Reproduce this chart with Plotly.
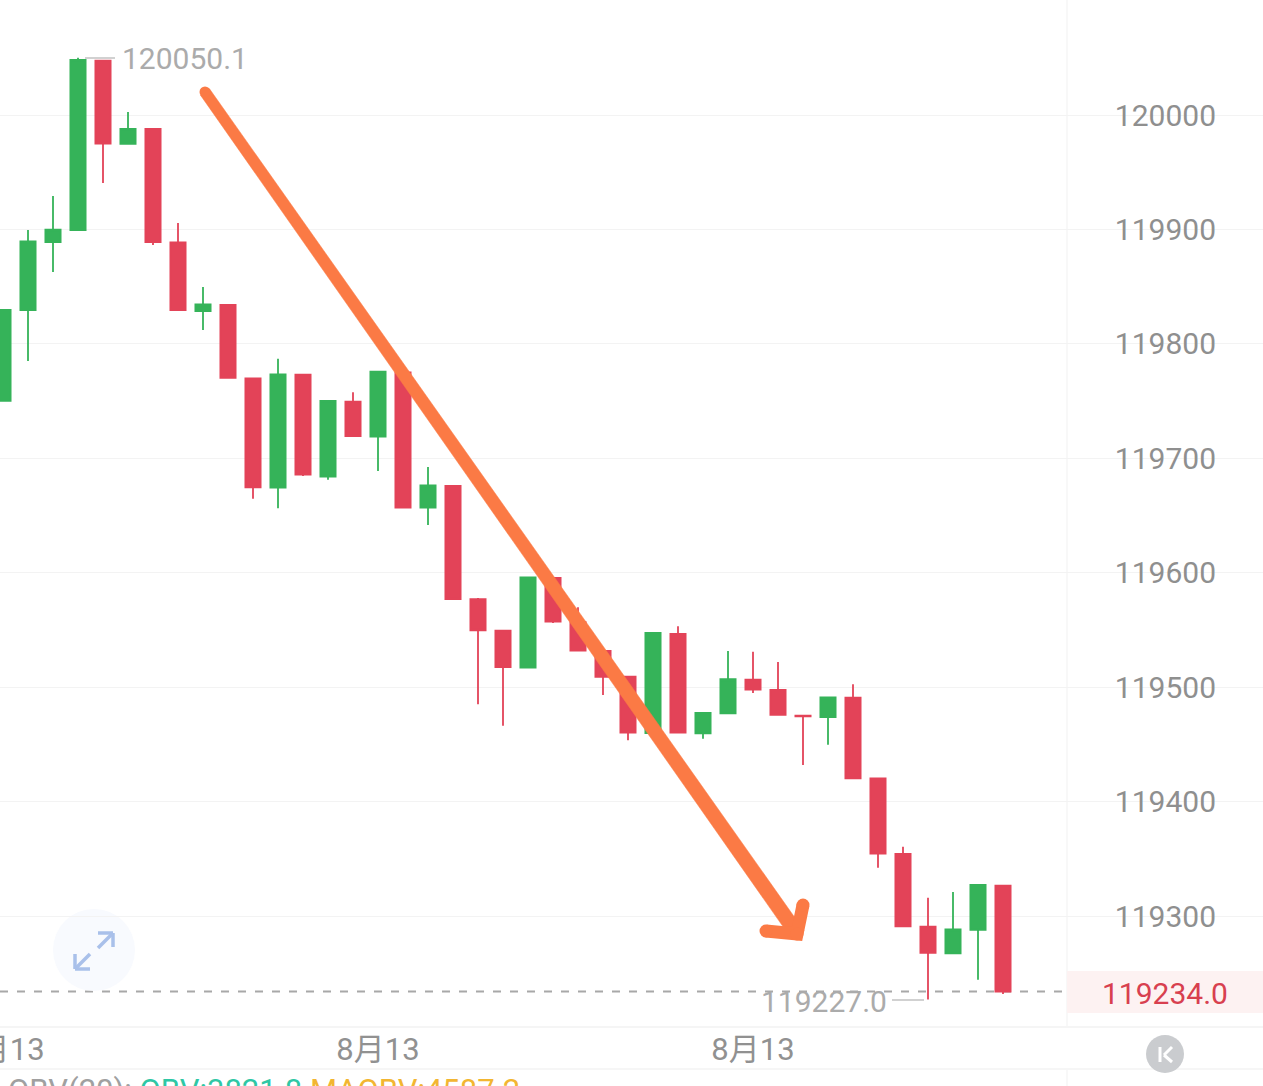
import plotly.graph_objects as go

# --- data ---
opens = [119750.1, 119829.6, 119889.0, 119899.5, 120047.6, 119974.7, 119987.8, 119888.6, 119828.7, 119834.0,
         119769.9, 119674.3, 119773.0, 119683.9, 119749.5, 119718.9, 119775.1, 119656.8, 119675.8, 119576.8,
         119549.3, 119517.0, 119595.4, 119556.9, 119531.6, 119509.1, 119459.9, 119546.5, 119459.7, 119477.1,
         119506.5, 119497.5, 119475.2, 119473.9, 119490.8, 119420.2, 119354.2, 119290.7, 119267.4, 119288.0,
         119326.5]
closes = [119829.6, 119889.5, 119899.9, 120048.1, 119975.1, 119987.8, 119889.0, 119829.6, 119834.4, 119770.2,
          119674.6, 119773.4, 119685.7, 119750.1, 119719.5, 119775.7, 119656.8, 119676.4, 119577.0, 119549.7,
          119517.6, 119596.0, 119557.2, 119531.9, 119509.1, 119460.2, 119547.3, 119460.2, 119477.4, 119506.9,
          119497.8, 119475.7, 119474.4, 119491.1, 119420.3, 119354.5, 119291.0, 119267.7, 119288.4, 119327.1,
          119234.0]
highs = [119829.6, 119899.5, 119929.2, 120050.1, 120047.6, 120002.6, 119987.8, 119905.6, 119849.7, 119834.0,
         119769.9, 119787.0, 119773.0, 119750.1, 119757.7, 119775.7, 119775.1, 119692.4, 119675.8, 119577.9,
         119549.3, 119596.7, 119595.4, 119569.8, 119531.6, 119509.1, 119547.3, 119553.2, 119477.4, 119531.6,
         119531.0, 119522.0, 119475.2, 119491.1, 119502.5, 119420.2, 119360.6, 119316.0, 119321.0, 119327.1,
         119326.5]
lows = [119750.1, 119785.0, 119862.8, 119899.5, 119940.6, 119974.7, 119886.4, 119829.6, 119812.1, 119770.2,
        119664.7, 119656.3, 119684.5, 119681.3, 119719.5, 119688.9, 119656.8, 119641.7, 119577.0, 119485.0,
        119466.3, 119517.0, 119556.1, 119531.9, 119493.1, 119453.5, 119459.9, 119460.2, 119454.9, 119477.1,
        119494.9, 119475.7, 119432.0, 119449.7, 119420.3, 119342.2, 119291.0, 119227.0, 119267.4, 119244.4,
        119231.8]
y_ticks = [119300, 119400, 119500, 119600, 119700, 119800, 119900, 120000]
x_tick_idx = [0, 15, 30]
x_tick_labels = ["8月13", "8月13", "8月13"]
max_label = "120050.1"
min_label = "119227.0"
last_label = "119234.0"
last_price = 119234.0

W, H, BOTTOM = 1263, 1086, 60
PH = H - BOTTOM
FONT = "Roboto, 'Noto Sans CJK SC', sans-serif"
GREEN, RED = "#35b359", "#e34358"
ORANGE = "#fb7a45"
GRID = "#f3f3f3"

# helpers: page pixel -> paper fraction (decorations only)
px = lambda v: v / W
py = lambda v: 1 - v / PH

fig = go.Figure()
fig.add_trace(go.Candlestick(
    x=list(range(len(opens))), open=opens, high=highs, low=lows, close=closes,
    increasing=dict(line=dict(color=GREEN, width=1.8), fillcolor=GREEN),
    decreasing=dict(line=dict(color=RED, width=1.8), fillcolor=RED),
    whiskerwidth=0, showlegend=False, hoverinfo="skip",
))

# hand-drawn arrow annotation, on a hidden page-pixel axis pair
# tapered shaft
fig.add_trace(go.Scatter(
    x=[209.5, 804.1, 791.9, 200.5, 209.5], y=[88.8, 930.7, 939.3, 95.2, 88.8],
    xaxis="x2", yaxis="y2", mode="lines", fill="toself", fillcolor=ORANGE,
    line=dict(color=ORANGE, width=0.5), showlegend=False, hoverinfo="skip",
))
# rounded start of the shaft
fig.add_trace(go.Scatter(
    x=[205], y=[92], xaxis="x2", yaxis="y2", mode="markers",
    marker=dict(color=ORANGE, size=11), showlegend=False, hoverinfo="skip",
))
# arrow head
fig.add_trace(go.Scatter(
    x=[803, 797, 766], y=[905, 934, 931], xaxis="x2", yaxis="y2", mode="lines+markers",
    line=dict(color=ORANGE, width=13), marker=dict(color=ORANGE, size=13),
    showlegend=False, hoverinfo="skip",
))

shapes = []
def rect(x0, y0, x1, y1, fill, layer="below"):
    shapes.append(dict(type="rect", xref="paper", yref="paper", x0=px(x0), x1=px(x1), y0=py(y0), y1=py(y1),
                       fillcolor=fill, line=dict(width=0), layer=layer))
def seg(x0, y0, x1, y1, color, width=1, dash=None, layer="below"):
    shapes.append(dict(type="line", xref="paper", yref="paper", x0=px(x0), x1=px(x1), y0=py(y0), y1=py(y1),
                       line=dict(color=color, width=width, dash=dash), layer=layer))

# right-hand label column
rect(1081, 0, 1247, 1026, "white")
seg(1067, 0, 1067, 1026, "#f6f6f6", 1.5)
seg(1067, 1069, 1067, 1086, "#f6f6f6", 1.5)
seg(0, 1027, 1263, 1027, "#f5f5f5", 2)
seg(0, 1069, 1263, 1069, "#f6f6f6", 2)
rect(1067, 971, 1263, 1013, "#fdf2f2")

# last price dashed line
shapes.append(dict(type="line", xref="paper", yref="y", x0=0, x1=px(1066), y0=last_price, y1=last_price,
                   line=dict(color="#a8a8a8", width=2, dash="8px,9px"), layer="below"))

# max / min leader lines
seg(85, 58, 115, 58, "#c2c2c2", 1.5, layer="above")
seg(892, 1000, 924, 1000, "#c2c2c2", 1.5, layer="above")

# expand button
shapes.append(dict(type="circle", xref="paper", yref="paper", x0=px(53), x1=px(135), y0=py(909), y1=py(991),
                   fillcolor="#f8fafe", line=dict(width=0), layer="below"))
BLUE = "#a9c0ea"
for a in [(98, 933, 113, 933), (113, 933, 113, 947), (113, 933, 98, 948),
          (75, 969, 90, 969), (75, 969, 75, 954), (75, 969, 90, 954)]:
    seg(*a, BLUE, 3.5, layer="above")

# K button
shapes.append(dict(type="circle", xref="paper", yref="paper", x0=px(1146), x1=px(1184), y0=py(1035), y1=py(1073),
                   fillcolor="#cacccf", line=dict(width=0), layer="above"))
for a in [(1160, 1047, 1160, 1062), (1172, 1047, 1164, 1055), (1164, 1055, 1172, 1062)]:
    seg(*a, "white", 3, layer="above")

def label(text, x, y, color, xanchor="center", size=30):
    return dict(text=text, xref="paper", yref="paper", x=px(x), y=py(y), xanchor=xanchor, yanchor="middle",
                showarrow=False, font=dict(family=FONT, size=size, color=color), borderpad=0, borderwidth=0)

annotations = [
    label(max_label, 122, 59, "#ababab", "left"),
    label(min_label, 761, 1001, "#ababab", "left"),
    label(last_label, 1165, 993, "#d8404f"),
    label('<span style="color:#a0a0a0">OBV(20):</span> <span style="color:#2fc7a5">OBV:3821.8</span> '
          '<span style="color:#f2b632">MAOBV:4587.2</span>', 8, 1090, "#a0a0a0", "left", 31),
]

fig.update_layout(
    width=W, height=H, margin=dict(l=0, r=0, t=0, b=BOTTOM, autoexpand=False),
    paper_bgcolor="white", plot_bgcolor="white", showlegend=False, hovermode=False,
    shapes=shapes, annotations=annotations, boxgap=0.13,
    font=dict(family=FONT),
    xaxis=dict(range=[-0.12, 50.4], rangeslider=dict(visible=False), showgrid=False, zeroline=False, showline=False,
               tickmode="array", tickvals=x_tick_idx, ticktext=x_tick_labels, ticks="", automargin=False,
               ticklabeloverflow="allow", ticklabelstandoff=2, tickangle=0,
               tickfont=dict(family=FONT, size=31, color="#919191")),
    yaxis=dict(range=[120100.5 - PH * 0.8739, 120100.5], side="right", ticklabelposition="inside",
               tickmode="array", tickvals=y_ticks, ticktext=[str(v) for v in y_ticks], ticks="",
               ticklabelstandoff=44, showgrid=True, gridcolor=GRID, gridwidth=1, zeroline=False, showline=False,
               automargin=False, tickfont=dict(family=FONT, size=30, color="#8f8f8f")),
    xaxis2=dict(range=[0, W], overlaying="x", visible=False, fixedrange=True),
    yaxis2=dict(range=[PH, 0], overlaying="y", visible=False, fixedrange=True),
)

fig.write_html("out.html", config=dict(displayModeBar=False),
               post_script="document.body.style.margin='0';document.body.style.overflow='hidden';")
